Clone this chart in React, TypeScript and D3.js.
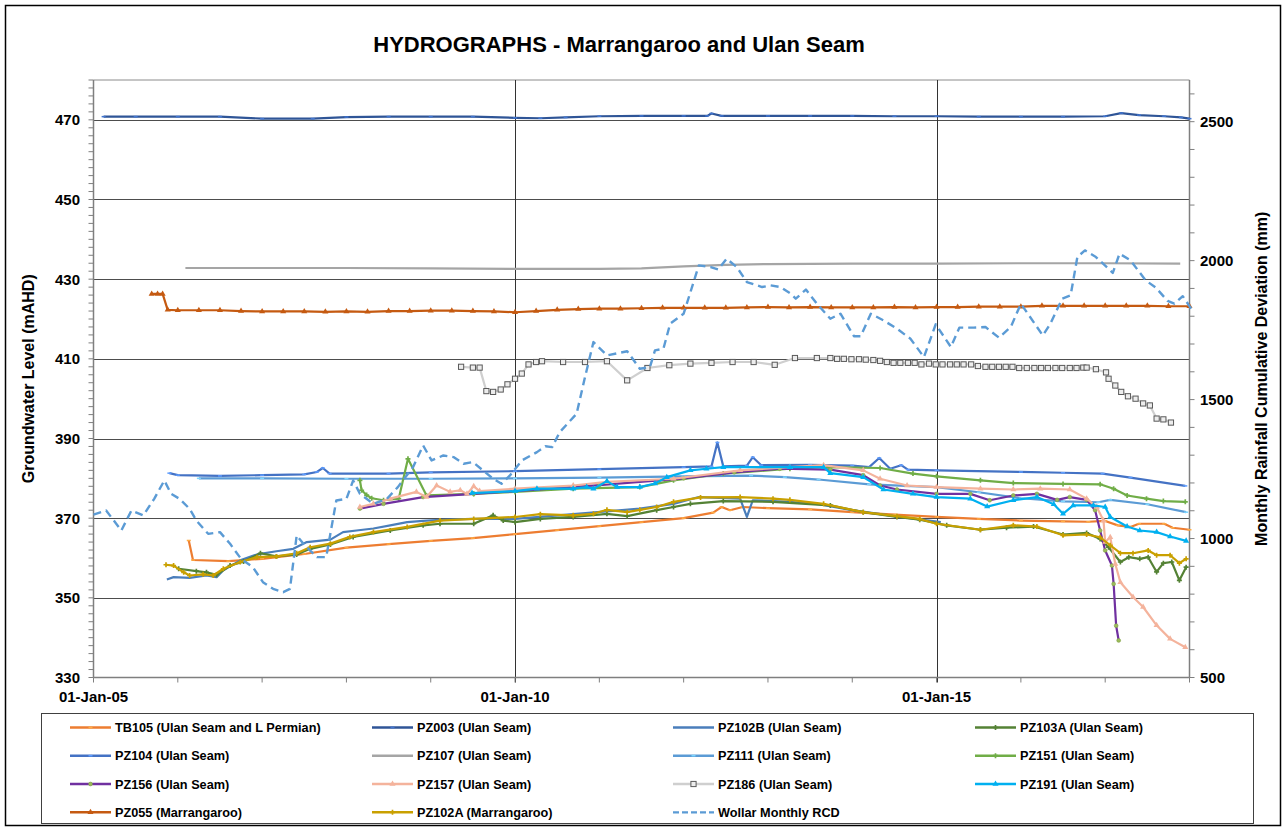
import React, { useEffect, useRef } from "react";
import * as d3 from "d3";

type Pt = [number, number];

// [decimal year, mAHD]
const tb105: Pt[] = [
  [2006.13, 364.4], [2006.18, 359.5], [2006.6, 359.2], [2007.0, 359.8], [2007.5, 361.0], [2008.0, 362.6],
  [2008.5, 363.5], [2009.0, 364.3], [2009.5, 365.0], [2010.0, 366.0], [2010.5, 367.0], [2011.0, 368.0],
  [2011.5, 369.0], [2012.0, 370.0], [2012.35, 371.4], [2012.45, 372.8], [2012.55, 372.0], [2012.7, 372.8],
  [2013.0, 372.5], [2013.5, 372.2], [2014.0, 371.5], [2014.5, 370.9], [2015.0, 370.3], [2015.5, 369.8],
  [2016.0, 369.4], [2016.5, 369.2], [2016.8, 369.1], [2017.0, 369.3], [2017.15, 368.2], [2017.3, 367.8],
  [2017.4, 368.6], [2017.7, 368.6], [2017.8, 367.6], [2018.0, 367.1],
];
const pz003: Pt[] = [
  [2005.12, 470.8], [2005.5, 470.8], [2006.0, 470.8], [2006.5, 470.8], [2007.0, 470.3], [2007.6, 470.3],
  [2008.0, 470.7], [2008.5, 470.8], [2009.0, 470.8], [2009.5, 470.8], [2010.0, 470.5], [2010.3, 470.4],
  [2010.6, 470.6], [2011.0, 470.9], [2011.5, 471.0], [2012.0, 471.0], [2012.28, 471.0], [2012.33, 471.6],
  [2012.45, 471.0], [2013.0, 471.0], [2013.5, 471.0], [2014.0, 471.0], [2014.5, 470.9], [2015.0, 470.9],
  [2015.5, 470.8], [2016.0, 470.8], [2016.5, 470.8], [2017.0, 470.9], [2017.19, 471.7], [2017.4, 471.2],
  [2017.7, 470.9], [2017.9, 470.6], [2018.0, 470.3],
];
const pz102b: Pt[] = [
  [2005.87, 354.6], [2005.95, 355.2], [2006.14, 355.0], [2006.34, 355.6], [2006.46, 355.2], [2006.54, 356.9],
  [2006.74, 359.4], [2006.94, 360.9], [2007.17, 361.7], [2007.37, 362.3], [2007.53, 364.0], [2007.81, 364.6],
  [2007.96, 366.5], [2008.12, 366.9], [2008.32, 367.4], [2008.52, 368.2], [2008.72, 369.0], [2008.91, 369.3],
  [2009.11, 369.6], [2009.5, 369.8], [2010.0, 369.8], [2010.69, 371.0], [2011.48, 372.4], [2011.88, 373.6],
  [2012.18, 375.3], [2012.67, 374.9], [2012.75, 370.3], [2012.82, 374.5], [2013.26, 374.1], [2013.6, 373.5],
  [2014.0, 372.0], [2014.5, 370.5], [2015.05, 369.0],
];
const pz103a: Pt[] = [
  [2006.01, 357.3], [2006.22, 356.7], [2006.34, 356.4], [2006.46, 355.8], [2006.62, 358.1], [2006.78, 359.1],
  [2006.98, 361.2], [2007.17, 360.4], [2007.41, 360.9], [2007.57, 362.3], [2007.81, 363.4], [2008.08, 365.3],
  [2008.52, 366.9], [2008.91, 368.2], [2009.11, 368.6], [2009.51, 368.6], [2009.74, 370.7], [2009.86, 369.4],
  [2010.0, 369.0], [2010.3, 369.8], [2010.69, 370.3], [2011.09, 371.1], [2011.33, 370.5], [2011.68, 372.0],
  [2011.88, 372.8], [2012.08, 373.6], [2012.47, 374.3], [2013.06, 374.1], [2013.74, 373.2], [2014.13, 371.5],
  [2014.53, 370.3], [2014.8, 369.6], [2015.12, 368.2], [2015.52, 367.1], [2015.83, 367.6], [2016.15, 367.9],
  [2016.5, 365.9], [2016.78, 366.3], [2016.94, 364.8], [2017.04, 362.7], [2017.18, 359.0], [2017.28, 360.2],
  [2017.41, 359.8], [2017.51, 360.2], [2017.61, 356.5], [2017.69, 358.7], [2017.79, 359.0], [2017.88, 354.4],
  [2017.96, 357.7],
];
const pz104: Pt[] = [
  [2005.9, 381.3], [2006.0, 380.8], [2006.5, 380.6], [2007.0, 380.8], [2007.5, 381.0], [2007.65, 381.6],
  [2007.72, 382.6], [2007.8, 381.2], [2008.5, 381.2], [2009.0, 381.5], [2010.0, 381.8], [2011.0, 382.3],
  [2012.0, 382.8], [2012.33, 383.0], [2012.4, 389.0], [2012.47, 383.0], [2012.75, 383.2], [2012.82, 385.3],
  [2012.92, 383.3], [2013.5, 383.4], [2014.0, 383.2], [2014.2, 382.8], [2014.32, 385.1], [2014.45, 382.4],
  [2014.58, 383.3], [2014.66, 382.2], [2015.0, 382.0], [2016.0, 381.6], [2016.5, 381.4], [2016.97, 381.2],
  [2017.3, 380.2], [2017.95, 378.1],
];
const pz107: Pt[] = [
  [2006.09, 432.8], [2007.0, 432.8], [2008.0, 432.8], [2009.0, 432.7], [2010.0, 432.6], [2011.0, 432.6],
  [2011.5, 432.7], [2012.0, 433.2], [2012.5, 433.6], [2013.0, 433.8], [2014.0, 433.9], [2015.0, 433.9],
  [2016.0, 434.0], [2017.0, 434.0], [2017.89, 433.9],
];
const pz111: Pt[] = [
  [2006.25, 380.0], [2007.0, 380.0], [2008.0, 379.9], [2009.0, 379.9], [2010.0, 380.0], [2011.0, 380.2],
  [2012.0, 380.5], [2012.8, 380.7], [2013.2, 380.3], [2013.6, 379.7], [2014.2, 378.5], [2015.0, 377.8],
  [2015.5, 376.5], [2016.0, 375.0], [2016.5, 374.2], [2016.92, 374.0], [2017.06, 374.6], [2017.5, 373.5],
  [2017.96, 371.5],
];
const pz151: Pt[] = [
  [2008.16, 379.5], [2008.18, 377.0], [2008.24, 375.8], [2008.3, 375.0], [2008.44, 374.5], [2008.62, 374.9],
  [2008.73, 384.9], [2008.95, 375.7], [2009.51, 376.1], [2010.0, 376.6], [2010.69, 377.4], [2011.48, 377.8],
  [2011.88, 379.5], [2012.47, 381.2], [2013.26, 382.4], [2013.66, 382.8], [2014.33, 382.6], [2014.72, 381.2],
  [2015.0, 380.5], [2015.52, 379.5], [2015.91, 378.8], [2016.5, 378.6], [2016.94, 378.5], [2017.1, 377.4],
  [2017.26, 375.7], [2017.49, 374.9], [2017.69, 374.3], [2017.95, 374.1],
];
const pz156: Pt[] = [
  [2008.16, 372.4], [2008.44, 373.6], [2008.91, 375.3], [2009.51, 376.1], [2010.0, 376.8], [2011.0, 378.3],
  [2012.0, 380.0], [2012.6, 381.5], [2013.14, 382.4], [2013.74, 382.2], [2014.13, 380.8], [2014.33, 378.2],
  [2014.53, 377.2], [2015.0, 376.1], [2015.4, 376.1], [2015.63, 374.5], [2015.91, 375.7], [2016.19, 376.1],
  [2016.43, 374.6], [2016.58, 375.3], [2016.78, 374.6], [2016.88, 372.0], [2016.94, 366.9], [2017.0, 361.9],
  [2017.08, 358.1], [2017.1, 353.5], [2017.13, 343.0], [2017.16, 339.3],
];
const pz157: Pt[] = [
  [2008.16, 372.8], [2008.32, 373.6], [2008.52, 374.9], [2008.83, 376.6], [2008.95, 375.3], [2009.07, 378.2],
  [2009.23, 376.6], [2009.35, 377.0], [2009.43, 376.1], [2009.51, 378.0], [2009.58, 376.8], [2010.0, 377.4],
  [2010.69, 378.2], [2011.09, 379.1], [2011.88, 379.9], [2012.67, 382.0], [2013.26, 382.8], [2013.66, 383.3],
  [2014.13, 382.0], [2014.33, 379.9], [2014.65, 378.2], [2015.0, 377.8], [2015.52, 377.4], [2015.91, 377.2],
  [2016.23, 377.4], [2016.58, 377.2], [2016.78, 374.9], [2016.9, 372.8], [2016.98, 369.4], [2017.0, 364.0],
  [2017.06, 365.2], [2017.12, 358.5], [2017.18, 353.9], [2017.33, 350.2], [2017.45, 347.7], [2017.61, 343.1],
  [2017.77, 339.7], [2017.95, 337.6],
];
const pz186: Pt[] = [
  [2009.36, 408.0], [2009.5, 407.8], [2009.58, 407.8], [2009.66, 401.9], [2009.74, 401.7], [2009.83, 402.3],
  [2009.91, 403.6], [2010.0, 405.0], [2010.08, 406.3], [2010.16, 408.6], [2010.25, 409.2], [2010.32, 409.4],
  [2010.57, 409.2], [2010.83, 409.2], [2011.09, 409.4], [2011.33, 404.6], [2011.57, 407.7], [2011.83, 408.4],
  [2012.08, 408.8], [2012.33, 409.0], [2012.58, 409.2], [2012.83, 409.2], [2013.08, 408.5], [2013.32, 410.2],
  [2013.58, 410.2], [2013.74, 410.2], [2013.82, 410.0], [2013.9, 410.0], [2013.99, 409.9], [2014.08, 409.9],
  [2014.16, 409.8], [2014.25, 409.7], [2014.33, 409.5], [2014.41, 409.2], [2014.49, 409.0], [2014.57, 409.0],
  [2014.66, 409.0], [2014.74, 409.0], [2014.82, 408.6], [2014.91, 408.8], [2014.99, 408.6], [2015.07, 408.6],
  [2015.16, 408.6], [2015.24, 408.6], [2015.32, 408.6], [2015.41, 408.6], [2015.49, 408.2], [2015.58, 408.0],
  [2015.66, 408.0], [2015.74, 408.0], [2015.82, 408.0], [2015.9, 408.0], [2015.98, 407.7], [2016.07, 407.7],
  [2016.16, 407.7], [2016.24, 407.7], [2016.32, 407.7], [2016.41, 407.7], [2016.49, 407.7], [2016.58, 407.7],
  [2016.66, 407.7], [2016.74, 407.8], [2016.78, 407.8], [2016.89, 407.4], [2017.01, 406.6], [2017.04, 405.0],
  [2017.12, 403.3], [2017.19, 401.7], [2017.27, 400.6], [2017.36, 400.0], [2017.45, 398.8], [2017.53, 398.3],
  [2017.61, 395.0], [2017.69, 394.8], [2017.78, 394.0],
];
const pz191: Pt[] = [
  [2009.49, 376.3], [2010.0, 376.8], [2010.26, 377.4], [2010.69, 377.4], [2010.85, 377.8], [2010.93, 377.4],
  [2011.09, 379.3], [2011.21, 377.8], [2011.48, 377.8], [2011.66, 378.7], [2011.8, 380.3], [2012.08, 382.0],
  [2012.27, 382.4], [2012.47, 382.8], [2013.26, 382.8], [2013.66, 382.8], [2013.74, 381.3], [2014.13, 380.3],
  [2014.37, 377.2], [2014.72, 376.1], [2015.0, 375.3], [2015.4, 374.9], [2015.6, 372.9], [2015.91, 374.5],
  [2016.19, 375.3], [2016.39, 373.5], [2016.5, 371.1], [2016.62, 373.2], [2016.86, 373.2], [2017.0, 372.8],
  [2017.06, 370.3], [2017.26, 367.9], [2017.41, 366.9], [2017.61, 366.5], [2017.77, 365.4], [2017.96, 364.3],
];
const pz055: Pt[] = [
  [2005.69, 426.3], [2005.76, 426.3], [2005.82, 426.3], [2005.88, 422.3], [2006.0, 422.2], [2006.25, 422.2],
  [2006.5, 422.2], [2006.75, 422.0], [2007.0, 421.9], [2007.25, 421.9], [2007.5, 421.9], [2007.75, 421.8],
  [2008.0, 421.9], [2008.25, 421.8], [2008.5, 422.0], [2008.75, 422.0], [2009.0, 422.1], [2009.25, 422.1],
  [2009.5, 422.0], [2009.75, 421.9], [2010.0, 421.7], [2010.25, 422.0], [2010.5, 422.3], [2010.75, 422.5],
  [2011.0, 422.6], [2011.25, 422.6], [2011.5, 422.7], [2011.75, 422.8], [2012.0, 422.8], [2012.25, 422.8],
  [2012.5, 422.8], [2012.75, 422.9], [2013.0, 423.0], [2013.25, 422.9], [2013.5, 423.0], [2013.75, 422.9],
  [2014.0, 422.9], [2014.25, 422.9], [2014.5, 423.0], [2014.75, 422.9], [2015.0, 423.0], [2015.25, 423.0],
  [2015.5, 423.1], [2015.75, 423.1], [2016.0, 423.1], [2016.25, 423.3], [2016.5, 423.3], [2016.75, 423.3],
  [2017.0, 423.3], [2017.25, 423.3], [2017.5, 423.3], [2017.75, 423.2], [2018.0, 423.2],
];
const pz102a: Pt[] = [
  [2005.86, 358.3], [2005.95, 358.1], [2006.07, 356.4], [2006.14, 355.6], [2006.3, 355.9], [2006.42, 355.6],
  [2006.54, 357.3], [2006.74, 359.0], [2006.94, 360.2], [2007.17, 360.4], [2007.41, 361.2], [2007.57, 362.7],
  [2007.81, 363.6], [2008.04, 365.3], [2008.32, 366.5], [2008.72, 367.8], [2009.11, 369.4], [2009.51, 369.8],
  [2010.0, 370.3], [2010.3, 371.0], [2010.69, 370.7], [2010.93, 371.1], [2011.09, 372.1], [2011.33, 371.5],
  [2011.48, 372.1], [2011.68, 372.8], [2011.88, 374.1], [2012.2, 375.2], [2012.67, 375.3], [2013.06, 374.9],
  [2013.26, 374.6], [2013.66, 373.6], [2014.13, 371.5], [2014.53, 370.5], [2014.8, 369.8], [2015.0, 368.6],
  [2015.52, 367.1], [2015.91, 368.2], [2016.19, 367.9], [2016.5, 365.7], [2016.78, 365.9], [2016.94, 365.2],
  [2017.06, 363.2], [2017.18, 361.2], [2017.33, 361.2], [2017.51, 361.9], [2017.61, 360.7], [2017.77, 360.7],
  [2017.88, 358.7], [2017.96, 359.8],
];
// [decimal year, mm] on the right axis
const wollarRcd: Pt[] = [
  [2005.0, 1086], [2005.15, 1101], [2005.33, 1029], [2005.45, 1101], [2005.59, 1083], [2005.72, 1143],
  [2005.84, 1209], [2005.92, 1161], [2006.02, 1143], [2006.14, 1107], [2006.22, 1065], [2006.36, 1017],
  [2006.5, 1023], [2006.62, 981], [2006.75, 927], [2006.89, 897], [2007.01, 843], [2007.13, 819],
  [2007.25, 807], [2007.33, 819], [2007.41, 1011], [2007.49, 981], [2007.65, 933], [2007.76, 933],
  [2007.88, 1137], [2008.0, 1143], [2008.08, 1209], [2008.16, 1161], [2008.32, 1125], [2008.48, 1143],
  [2008.61, 1185], [2008.79, 1257], [2008.91, 1335], [2009.01, 1281], [2009.15, 1299], [2009.27, 1293],
  [2009.39, 1269], [2009.5, 1275], [2009.62, 1245], [2009.74, 1215], [2009.84, 1197], [2009.94, 1227],
  [2010.08, 1281], [2010.26, 1311], [2010.36, 1332], [2010.44, 1329], [2010.53, 1383], [2010.73, 1449],
  [2010.83, 1581], [2010.93, 1707], [2011.09, 1659], [2011.33, 1674], [2011.48, 1611], [2011.6, 1617],
  [2011.66, 1677], [2011.76, 1683], [2011.84, 1773], [2012.0, 1809], [2012.18, 1983], [2012.32, 1977],
  [2012.41, 1968], [2012.51, 2007], [2012.63, 1977], [2012.75, 1923], [2012.93, 1905], [2013.03, 1911],
  [2013.15, 1905], [2013.27, 1881], [2013.33, 1863], [2013.45, 1896], [2013.58, 1845], [2013.74, 1791],
  [2013.86, 1809], [2014.02, 1728], [2014.1, 1728], [2014.22, 1809], [2014.37, 1785], [2014.53, 1755],
  [2014.69, 1719], [2014.85, 1653], [2014.99, 1771], [2015.17, 1689], [2015.27, 1759], [2015.44, 1759],
  [2015.58, 1761], [2015.74, 1723], [2015.88, 1761], [2016.0, 1845], [2016.26, 1731], [2016.35, 1773],
  [2016.49, 1863], [2016.59, 1875], [2016.67, 2013], [2016.76, 2037], [2016.89, 2013], [2017.09, 1956],
  [2017.17, 2025], [2017.3, 2001], [2017.48, 1929], [2017.6, 1903], [2017.74, 1855], [2017.82, 1845],
  [2017.92, 1872], [2018.02, 1827],
];

const leftTicks = [330, 350, 370, 390, 410, 430, 450, 470];
const rightTicks = [500, 1000, 1500, 2000, 2500];
const xLabelYears = [2005, 2010, 2015];

const series = [
  { name: "TB105 (Ulan Seam and L Permian)", data: tb105, color: "#ED7D31", marker: "dash" },
  { name: "PZ003 (Ulan Seam)", data: pz003, color: "#2F5597", marker: "dash" },
  { name: "PZ102B (Ulan Seam)", data: pz102b, color: "#4A7EBB", marker: "none" },
  { name: "PZ103A (Ulan Seam)", data: pz103a, color: "#548235", marker: "plus" },
  { name: "PZ104 (Ulan Seam)", data: pz104, color: "#4472C4", marker: "dash" },
  { name: "PZ107 (Ulan Seam)", data: pz107, color: "#A5A5A5", marker: "none" },
  { name: "PZ111 (Ulan Seam)", data: pz111, color: "#5B9BD5", marker: "dash" },
  { name: "PZ151 (Ulan Seam)", data: pz151, color: "#70AD47", marker: "plus" },
  { name: "PZ156 (Ulan Seam)", data: pz156, color: "#7030A0", marker: "dot" },
  { name: "PZ157 (Ulan Seam)", data: pz157, color: "#F4B39C", marker: "tri" },
  { name: "PZ186 (Ulan Seam)", data: pz186, color: "#CFCFCF", marker: "square" },
  { name: "PZ191 (Ulan Seam)", data: pz191, color: "#00B0F0", marker: "tri" },
  { name: "PZ055 (Marrangaroo)", data: pz055, color: "#C55A11", marker: "tri" },
  { name: "PZ102A (Marrangaroo)", data: pz102a, color: "#C9A000", marker: "plus" },
  { name: "Wollar Monthly RCD", data: wollarRcd, color: "#5B9BD5", marker: "none", right: true, dashed: true },
];

const W = 1287;
const H = 827;
const FONT = "Arial, 'Liberation Sans', sans-serif";

const fmtYear = (y: number) => "01-Jan-" + String(y % 100).padStart(2, "0");

function drawMarker(g: any, kind: string, x: number, y: number, color: string) {
  if (kind === "dash") {
    g.append("line").attr("x1", x - 2).attr("x2", x + 2).attr("y1", y).attr("y2", y)
      .attr("stroke", d3.color(color)!.brighter(0.9).formatHex()).attr("stroke-width", 1.5);
  } else if (kind === "plus") {
    g.append("path").attr("d", d3.symbol(d3.symbolCross, 14)()).attr("transform", `translate(${x},${y})`)
      .attr("fill", color);
  } else if (kind === "tri") {
    g.append("path").attr("d", d3.symbol(d3.symbolTriangle, 16)()).attr("transform", `translate(${x},${y})`)
      .attr("fill", color);
  } else if (kind === "dot") {
    g.append("circle").attr("cx", x).attr("cy", y).attr("r", 1.9).attr("fill", "#9BBB59")
      .attr("stroke", "#7FA046").attr("stroke-width", 0.6);
  } else if (kind === "square") {
    g.append("rect").attr("x", x - 2.6).attr("y", y - 2.6).attr("width", 5.2).attr("height", 5.2)
      .attr("fill", "#EDEDED").attr("stroke", "#595959").attr("stroke-width", 1);
  }
}

const App = () => {
  const ref = useRef<HTMLDivElement>(null);

  useEffect(() => {
    if (!ref.current) return;
    document.body.style.margin = "0";
    d3.select(ref.current).selectAll("*").remove();

    const svg = d3.select(ref.current).append("svg")
      .attr("width", W).attr("height", H)
      .style("display", "block")
      .style("background", "#fff")
      .style("font-family", FONT);

    const left = 93.5, right = 1189.5, top = 80, bottom = 677.5;

    const x = d3.scaleLinear().domain([2005, 2018]).range([left, right]);
    const yL = d3.scaleLinear().domain([330, 480]).range([bottom, top]);
    const yR = d3.scaleLinear().domain([500, 2650]).range([bottom, top]);

    // outer frame
    svg.append("rect").attr("x", 5.5).attr("y", 5.5).attr("width", 1275).attr("height", 820)
      .attr("fill", "none").attr("stroke", "#000").attr("stroke-width", 1.5);

    // title
    svg.append("text").attr("x", 619).attr("y", 52).attr("text-anchor", "middle")
      .style("font-size", "22px").style("font-weight", "bold").text("HYDROGRAPHS - Marrangaroo and Ulan Seam");

    // plot border top
    svg.append("line").attr("x1", left).attr("x2", right).attr("y1", top).attr("y2", top)
      .attr("stroke", "#8C8C8C").attr("stroke-width", 1);

    // horizontal gridlines
    svg.append("g").selectAll("line").data(leftTicks.filter((t) => t > 330)).join("line")
      .attr("x1", left).attr("x2", right)
      .attr("y1", (d) => Math.round(yL(d)) + 0.5).attr("y2", (d) => Math.round(yL(d)) + 0.5)
      .attr("stroke", "#4D4D4D").attr("stroke-width", 1);

    // vertical gridlines
    svg.append("g").selectAll("line").data(xLabelYears.filter((d) => d > 2005)).join("line")
      .attr("x1", (d) => Math.round(x(d)) + 0.5).attr("x2", (d) => Math.round(x(d)) + 0.5)
      .attr("y1", top).attr("y2", bottom + 5)
      .attr("stroke", "#333").attr("stroke-width", 1);

    // axis lines
    const axisCol = "#7F7F7F";
    svg.append("line").attr("x1", left).attr("x2", left).attr("y1", top).attr("y2", bottom)
      .attr("stroke", axisCol).attr("stroke-width", 1.5);
    svg.append("line").attr("x1", right).attr("x2", right).attr("y1", top).attr("y2", bottom)
      .attr("stroke", axisCol).attr("stroke-width", 1.5);
    svg.append("line").attr("x1", left).attr("x2", right).attr("y1", bottom).attr("y2", bottom)
      .attr("stroke", axisCol).attr("stroke-width", 1.5);

    // left ticks (every 2)
    svg.append("g").selectAll("line").data(d3.range(330, 481, 2)).join("line")
      .attr("x1", left - 5).attr("x2", left).attr("y1", (d) => yL(d)).attr("y2", (d) => yL(d))
      .attr("stroke", axisCol).attr("stroke-width", 1);
    // right ticks (every 100)
    svg.append("g").selectAll("line").data(d3.range(500, 2601, 100)).join("line")
      .attr("x1", right).attr("x2", right + 5).attr("y1", (d) => yR(d)).attr("y2", (d) => yR(d))
      .attr("stroke", axisCol).attr("stroke-width", 1);
    // bottom ticks (every year)
    svg.append("g").selectAll("line").data(d3.range(2005, 2019)).join("line")
      .attr("x1", (d) => x(d)).attr("x2", (d) => x(d)).attr("y1", bottom).attr("y2", bottom + 5)
      .attr("stroke", axisCol).attr("stroke-width", 1);

    // tick labels
    svg.append("g").selectAll("text").data(leftTicks).join("text")
      .attr("x", 80).attr("y", (d) => yL(d)).attr("dy", "0.36em").attr("text-anchor", "end")
      .style("font-size", "15px").style("font-weight", "bold").text((d) => d);
    svg.append("g").selectAll("text").data(rightTicks).join("text")
      .attr("x", 1200).attr("y", (d) => yR(d)).attr("dy", "0.36em").attr("text-anchor", "start")
      .style("font-size", "15px").style("font-weight", "bold").text((d) => d);
    svg.append("g").selectAll("text").data(xLabelYears).join("text")
      .attr("x", (d) => x(d)).attr("y", 702).attr("text-anchor", "middle")
      .style("font-size", "15px").style("font-weight", "bold").text((d) => fmtYear(d));

    // axis titles
    svg.append("text").attr("transform", `translate(34,${(top + bottom) / 2}) rotate(-90)`)
      .attr("text-anchor", "middle").style("font-size", "16px").style("font-weight", "bold")
      .text("Groundwater  Level (mAHD)");
    svg.append("text").attr("transform", `translate(1267,${(top + bottom) / 2}) rotate(-90)`)
      .attr("text-anchor", "middle").style("font-size", "16px").style("font-weight", "bold")
      .text("Monthly Rainfall Cumulative Deviation (mm)");

    // series
    const plot = svg.append("g");
    series.forEach((s: any) => {
      const yS = s.right ? yR : yL;
      const line = d3.line<Pt>().x((d) => x(d[0])).y((d) => yS(d[1]));
      plot.append("path").datum(s.data).attr("d", line)
        .attr("fill", "none").attr("stroke", s.color)
        .attr("stroke-width", s.dashed ? 2.4 : 2.2)
        .attr("stroke-dasharray", s.dashed ? "8,5" : null)
        .attr("stroke-linejoin", "round");
      if (s.marker !== "none") {
        const mg = plot.append("g");
        s.data.forEach((d: Pt) => drawMarker(mg, s.marker, x(d[0]), yS(d[1]), s.color));
      }
    });

    // legend
    const lg = svg.append("g");
    lg.append("rect").attr("x", 41.5).attr("y", 713.5).attr("width", 1212).attr("height", 110)
      .attr("fill", "#fff").attr("stroke", "#404040").attr("stroke-width", 1);
    const colX = [115, 417, 718, 1020];
    const rowY = [727.5, 755.7, 784, 812.3];
    series.forEach((s: any, i) => {
      const tx = colX[i % 4];
      const ty = rowY[Math.floor(i / 4)];
      lg.append("line").attr("x1", tx - 45).attr("x2", tx - 4).attr("y1", ty).attr("y2", ty)
        .attr("stroke", s.color).attr("stroke-width", s.dashed ? 2.2 : 2.5)
        .attr("stroke-dasharray", s.dashed ? "6,3" : null);
      if (s.marker !== "none") drawMarker(lg, s.marker, tx - 24.5, ty, s.color);
      lg.append("text").attr("x", tx).attr("y", ty).attr("dy", "0.36em")
        .style("font-size", "12.7px").style("font-weight", "bold").text(s.name);
    });
  }, []);

  return <div ref={ref} style={{ width: W, height: H }}></div>;
};

export default App;
